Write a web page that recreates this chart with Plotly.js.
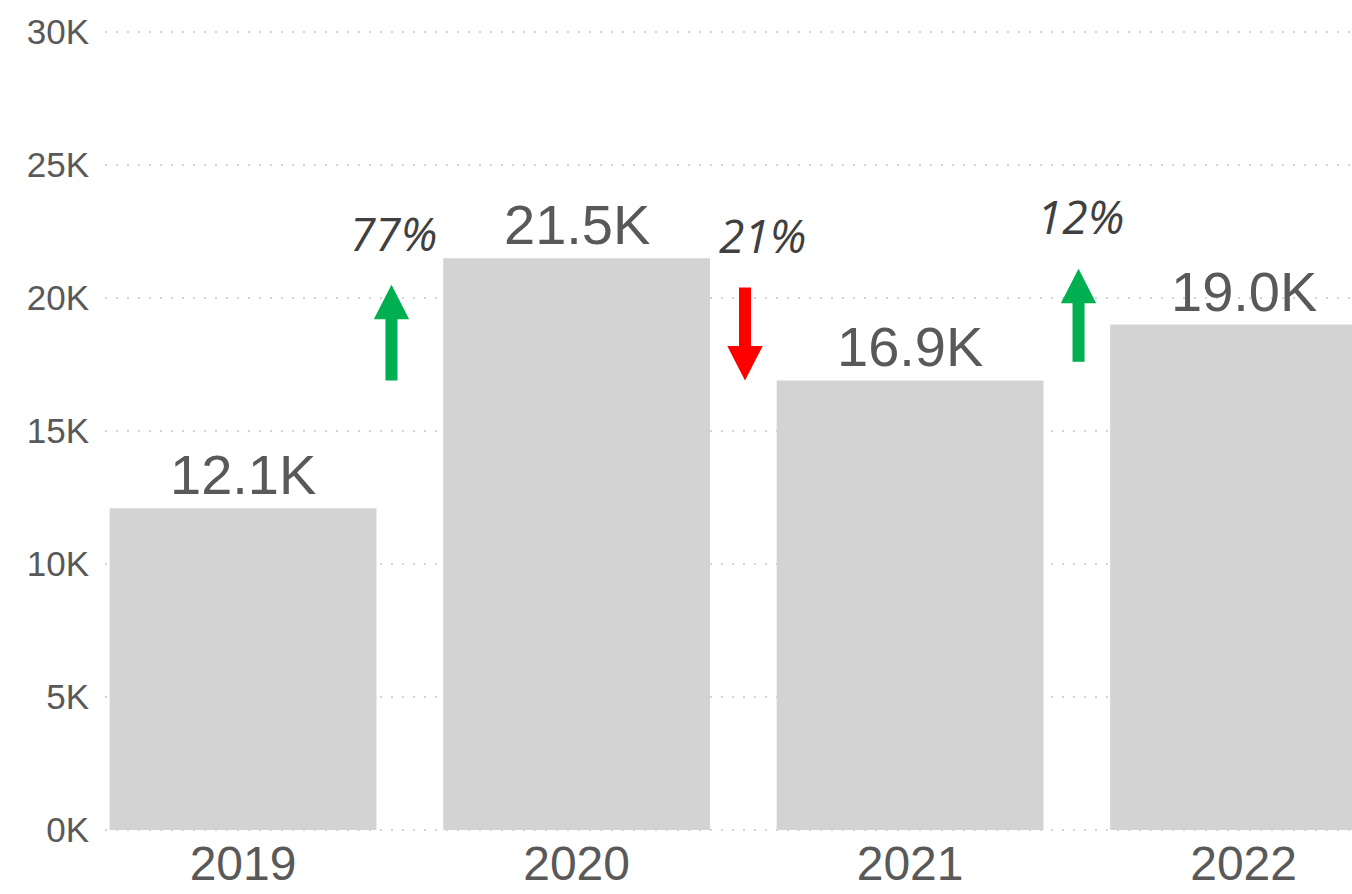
<!DOCTYPE html>
<html>
<head>
<meta charset="utf-8">
<script src="https://cdn.plot.ly/plotly-3.0.1.min.js"></script>
<style>html,body{margin:0;padding:0;background:#fff;}#chart{width:1352px;height:894px;}</style>
</head>
<body>
<div id="chart"></div>
<script>
const years = ['2019', '2020', '2021', '2022'];
const values = [12100, 21500, 16900, 19000];
const changeLabels = ['77%', '21%', '12%'];
const changeDirections = ['up', 'down', 'up'];
const yTickVals = [0, 5000, 10000, 15000, 20000, 25000, 30000];
const yTickText = ['0K', '5K', '10K', '15K', '20K', '25K', '30K'];

const idx = years.map((_, i) => i);

// layout-only placement of the change markers
const arrowX = [0.445, 1.505, 2.505];
const arrowLow = [16900, 16900, 17600];
const arrowHigh = [20500, 20400, 21100];
const labelX = [0.45, 1.556, 2.51];
const labelY = [22440, 22370, 23100];
const headHalf = 0.053, shaftHalf = 0.018, headLen = 1300;

function arrowPath(x, lo, hi, dir) {
  if (dir === 'up') {
    const hb = hi - headLen;
    return `M ${x - shaftHalf} ${lo} L ${x + shaftHalf} ${lo} L ${x + shaftHalf} ${hb} L ${x + headHalf} ${hb} L ${x} ${hi} L ${x - headHalf} ${hb} L ${x - shaftHalf} ${hb} Z`;
  } else {
    const hb = lo + headLen;
    return `M ${x - shaftHalf} ${hi} L ${x + shaftHalf} ${hi} L ${x + shaftHalf} ${hb} L ${x + headHalf} ${hb} L ${x} ${lo} L ${x - headHalf} ${hb} L ${x - shaftHalf} ${hb} Z`;
  }
}

const shapes = changeDirections.map((d, i) => ({
  type: 'path', xref: 'x', yref: 'y', layer: 'above',
  path: arrowPath(arrowX[i], arrowLow[i], arrowHigh[i], d),
  fillcolor: d === 'up' ? '#00b050' : '#ff0000',
  line: {width: 0}
}));

const annotations = [];
values.forEach((v, i) => {
  annotations.push({
    x: idx[i], y: v, xref: 'x', yref: 'y',
    text: (v / 1000).toFixed(1) + 'K',
    showarrow: false, yanchor: 'bottom', yshift: 0,
    font: {family: 'Liberation Sans, Arial, sans-serif', size: 56, color: '#595959'}
  });
});
changeLabels.forEach((t, i) => {
  annotations.push({
    x: labelX[i], y: labelY[i], xref: 'x', yref: 'y',
    text: t, showarrow: false, xanchor: 'center', yanchor: 'middle',
    font: {family: 'Open Sans, sans-serif', size: 46, color: '#404040', style: 'italic'}
  });
});

const trace = {
  type: 'bar', x: idx, y: values, width: 0.8,
  marker: {color: '#d3d3d3', line: {width: 0}},
  hoverinfo: 'none'
};

const layout = {
  width: 1352, height: 894,
  margin: {l: 105, r: 0, t: 31, b: 63},
  paper_bgcolor: '#ffffff', plot_bgcolor: '#ffffff',
  showlegend: false,
  xaxis: {
    type: 'linear', range: [-0.414, 3.325],
    tickvals: idx, ticktext: years,
    showgrid: false, zeroline: false, showline: false,
    ticks: '', ticklen: 0,
    tickfont: {family: 'Liberation Sans, Arial, sans-serif', size: 48, color: '#595959'}
  },
  yaxis: {
    range: [-40, 30040], tickvals: yTickVals, ticktext: yTickText,
    showgrid: true, gridcolor: '#d4d4d4', gridwidth: 2, griddash: '2px,9px',
    zeroline: false, showline: false,
    ticks: 'outside', ticklen: 8, tickcolor: 'rgba(0,0,0,0)',
    tickfont: {family: 'Liberation Sans, Arial, sans-serif', size: 35, color: '#595959'}
  },
  shapes: shapes,
  annotations: annotations
};

Plotly.newPlot('chart', [trace], layout, {displayModeBar: false, staticPlot: true});
</script>
</body>
</html>
